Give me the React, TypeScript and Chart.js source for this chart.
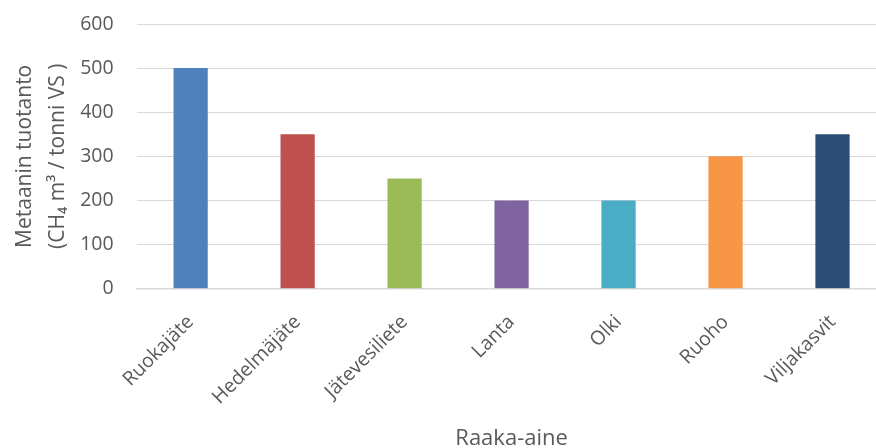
import React, { useEffect, useRef } from "react";
import { Chart, registerables } from "chart.js";

Chart.register(...registerables);

const categories = ["Ruokajäte", "Hedelmäjäte", "Jätevesiliete", "Lanta", "Olki", "Ruoho", "Viljakasvit"];
const values = [500, 350, 250, 200, 200, 300, 350];
const colors = ["#4F81BD", "#C0504D", "#9BBB59", "#8064A2", "#4BACC6", "#F79646", "#2C4D75"];
const yTitle = ["Metaanin tuotanto", "(CH\u2084 m\u00B3 / tonni VS )"];
const xTitle = "Raaka-aine";

export default function App() {
  const ref = useRef<HTMLCanvasElement>(null);
  useEffect(() => {
    document.body.style.margin = "0";
    document.body.style.overflow = "hidden";
    const font = "'Open Sans', sans-serif";
    const chart = new Chart(ref.current!, {
      type: "bar",
      data: {
        labels: categories,
        datasets: [{ data: values, backgroundColor: colors, barPercentage: 0.32, categoryPercentage: 1 }],
      },
      options: {
        animation: false,
        responsive: false,
        maintainAspectRatio: false,
        layout: { padding: { top: 24, left: 8, right: 0, bottom: 0 } },
        plugins: { legend: { display: false }, tooltip: { enabled: false } },
        scales: {
          x: {
            afterFit: (s: any) => { s.paddingLeft = 0; s.paddingRight = 0; },
            grid: { display: false },
            border: { color: "#D9D9D9", width: 1.5 },
            ticks: { color: "#595959", font: { family: font, size: 19.5 }, minRotation: 45, maxRotation: 45, padding: 14 },
            title: { display: true, text: xTitle, color: "#595959", font: { family: font, size: 22, lineHeight: 0.85 }, padding: { top: 6.3, bottom: 0 } },
          },
          y: {
            afterFit: (s: any) => { s.paddingTop = 0; s.paddingBottom = 0; },
            min: 0,
            max: 600,
            ticks: { stepSize: 100, color: "#595959", font: { family: font, size: 19.5 }, padding: 23.5 },
            grid: { color: "#D9D9D9", lineWidth: 1, drawTicks: false },
            border: { display: false },
            title: { display: true, text: yTitle, color: "#595959", font: { family: font, size: 21, lineHeight: 1.6 }, padding: { top: 0, bottom: -18.5 } },
          },
        },
      },
    });
    return () => chart.destroy();
  }, []);
  return (
    <div style={{ position: "absolute", left: 0, top: 0, width: 886, height: 448 }}>
      <canvas ref={ref} width={886} height={448} style={{ width: 886, height: 448 }} />
    </div>
  );
}
